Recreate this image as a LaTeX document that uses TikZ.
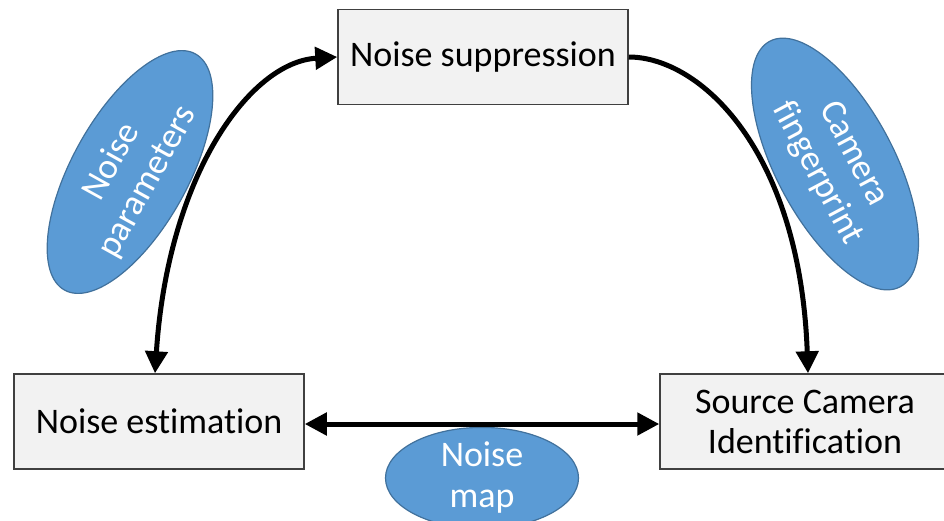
\documentclass[tikz,border=0pt]{standalone}
\usepackage{fontspec}
\setmainfont{Carlito}[Ligatures={NoCommon}]
\usetikzlibrary{shapes.geometric,arrows.meta}
\definecolor{boxfill}{HTML}{F2F2F2}
\definecolor{boxline}{HTML}{404040}
\definecolor{blobfill}{HTML}{5B9BD5}
\definecolor{blobline}{HTML}{41719C}
\tikzset{
  stage/.style={draw=boxline, line width=1.5pt, fill=boxfill, minimum width=290pt,
    minimum height=95pt, inner sep=0pt, align=center, font=\fontsize{36}{40}\selectfont},
  blob/.style={ellipse, draw=blobline, line width=1.2pt, fill=blobfill, text=white,
    inner sep=0pt, align=center, font=\fontsize{36}{41}\selectfont},
  flow/.style={line width=5pt, -{Triangle[length=22pt,width=22pt]}},
  flowboth/.style={line width=5pt, {Triangle[length=22pt,width=22pt]}-{Triangle[length=22pt,width=22pt]}}
}
\begin{document}
\begin{tikzpicture}[x=1pt,y=-1pt]
\useasboundingbox (0,0) rectangle (944,520);
% process boxes
\node[stage] (sup) at (483,57) {Noise suppression};
\node[stage] (est) at (159,421.5) {Noise estimation};
\node[stage] (sci) at (805,421.5) {Source Camera\\Identification};
% data ellipses
\node[blob, minimum width=270pt, minimum height=116pt, rotate=61] (par) at (130,172) {Noise\\parameters};
\node[blob, minimum width=278pt, minimum height=118pt, rotate=-62] (fp) at (835,164) {Camera\\fingerprint};
\node[blob, minimum width=193pt, minimum height=96pt] (map) at (482,478) {Noise\\map};
% connectors
\draw[flowboth] (est.north -| 155,0) .. controls (168,175) and (250,62) .. (sup.west |- 0,57);
\draw[flow] (sup.east) .. controls (700,57) and (800,150) .. (sci.north -| 808,0);
\draw[flowboth] (est.east |- 0,424) -- (sci.west |- 0,424);
\end{tikzpicture}
\end{document}
